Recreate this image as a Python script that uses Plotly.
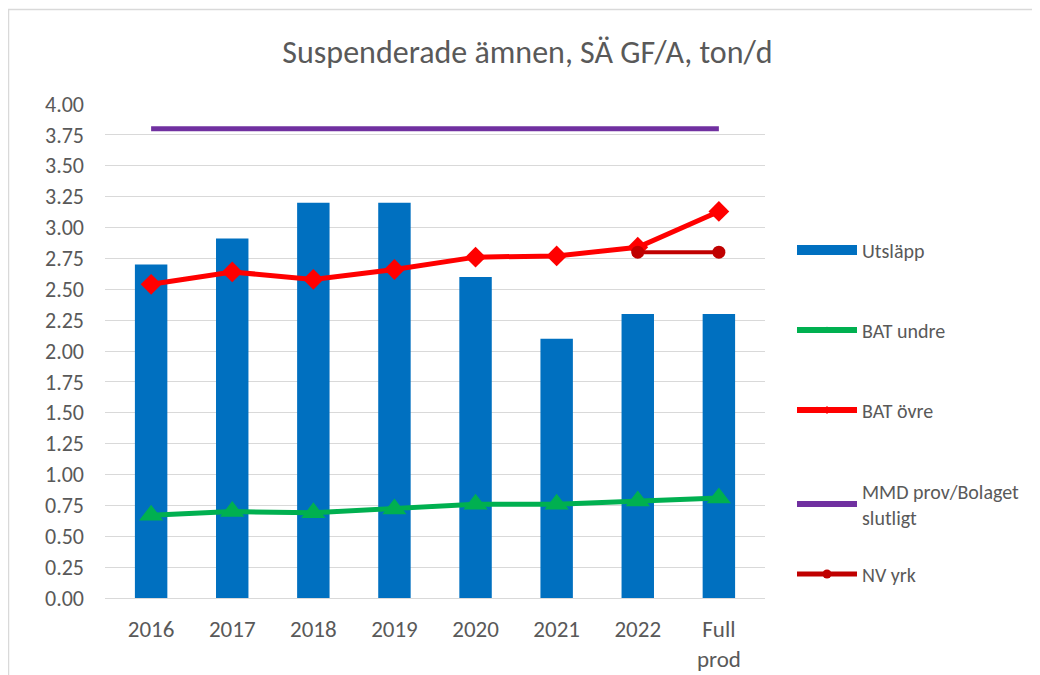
import plotly.graph_objects as go

categories = ["2016", "2017", "2018", "2019", "2020", "2021", "2022", "Full<br>prod"]
utslapp = [2.70, 2.91, 3.20, 3.20, 2.60, 2.10, 2.30, 2.30]
bat_undre = [0.67, 0.70, 0.69, 0.72, 0.76, 0.76, 0.785, 0.81]
bat_ovre = [2.54, 2.64, 2.58, 2.66, 2.76, 2.77, 2.84, 3.13]
mmd = [3.80] * 8
nv_yrk = [None, None, None, None, None, None, 2.80, 2.80]
y_ticks = [i * 0.25 for i in range(17)]

FONT = "Calibri, Carlito, Lato, sans-serif"
TXT = "#595959"

W, H = 1032, 667
l, r, t, b = 97, 275, 96, 77
pw, ph = W - l - r, H - t - b


def px(x):
    return (x - l) / pw


def py(y):
    return (H - b - y) / ph


fig = go.Figure()
# plotted series (legend entries drawn by separate legend-only traces below)
fig.add_trace(go.Bar(x=categories, y=utslapp, name="Utsläpp", marker_color="#0070C0",
                     marker_line_width=0, showlegend=False))
fig.add_trace(go.Scatter(x=categories, y=bat_undre, name="BAT undre", mode="lines+markers",
                         line=dict(color="#00B050", width=5),
                         marker=dict(symbol="triangle-up", size=21, color="#00B050"),
                         showlegend=False))
fig.add_trace(go.Scatter(x=categories, y=bat_ovre, name="BAT övre", mode="lines+markers",
                         line=dict(color="#FF0000", width=5),
                         marker=dict(symbol="diamond", size=16, color="#FF0000"),
                         showlegend=False))
fig.add_trace(go.Scatter(x=categories, y=mmd, name="MMD prov/Bolaget slutligt", mode="lines",
                         line=dict(color="#7030A0", width=5), showlegend=False))
fig.add_trace(go.Scatter(x=categories, y=nv_yrk, name="NV yrk", mode="lines+markers",
                         line=dict(color="#C00000", width=4),
                         marker=dict(symbol="circle", size=13, color="#C00000"),
                         connectgaps=False, showlegend=False))

# legend entries
fig.add_trace(go.Scatter(x=[None], y=[None], name="Utsläpp", mode="lines",
                         line=dict(color="#0070C0", width=10), legend="legend"))
fig.add_trace(go.Scatter(x=[None], y=[None], name="BAT undre", mode="lines+markers",
                         line=dict(color="#00B050", width=6),
                         marker=dict(symbol="triangle-up", size=7, color="#00B050"),
                         legend="legend2"))
fig.add_trace(go.Scatter(x=[None], y=[None], name="BAT övre", mode="lines+markers",
                         line=dict(color="#FF0000", width=6),
                         marker=dict(symbol="diamond", size=6, color="#FF0000"),
                         legend="legend3"))
fig.add_trace(go.Scatter(x=[None], y=[None], name="MMD prov/Bolaget<br>slutligt", mode="lines",
                         line=dict(color="#7030A0", width=6), legend="legend4"))
fig.add_trace(go.Scatter(x=[None], y=[None], name="NV yrk", mode="lines+markers",
                         line=dict(color="#C00000", width=5),
                         marker=dict(symbol="circle", size=9, color="#C00000"),
                         legend="legend5"))

legend_x = px(784)


def leg(yc):
    return dict(x=legend_x, y=py(yc), xanchor="left", yanchor="middle",
                font=dict(size=20, color=TXT, family=FONT),
                itemwidth=60, bgcolor="rgba(0,0,0,0)")


fig.update_layout(
    width=W, height=H,
    margin=dict(l=l, r=r, t=t, b=b, autoexpand=False),
    paper_bgcolor="white", plot_bgcolor="white",
    font=dict(family=FONT, color=TXT, size=19),
    title=dict(text="Suspenderade ämnen, SÄ GF/A, ton/d", x=519.5 / W,
               xanchor="center", y=1 - 44 / H, yanchor="middle",
               font=dict(size=32, color=TXT, family=FONT)),
    bargap=0.6,
    showlegend=True,
    legend=leg(242),
    legend2=leg(322),
    legend3=leg(402),
    legend4=leg(496),
    legend5=leg(566),
    xaxis=dict(showgrid=False, showline=True, linecolor="#D9D9D9", linewidth=1,
               ticks="", tickfont=dict(size=23, color=TXT), tickangle=0,
               ticklabelstandoff=10, automargin=False),
    yaxis=dict(range=[0, 4.0], tickvals=y_ticks, tickformat=".2f",
               showgrid=True, gridcolor="#D9D9D9", gridwidth=1,
               zeroline=False, showline=False, ticks="",
               tickfont=dict(size=22, color=TXT), ticklabelstandoff=20,
               automargin=False),
    shapes=[dict(type="rect", xref="paper", yref="paper",
                 x0=px(0.5), x1=px(1060), y0=py(700), y1=py(1.5),
                 line=dict(color="#D9D9D9", width=1.5), fillcolor="rgba(0,0,0,0)", layer="below")],
)

fig.write_html("out.html")
